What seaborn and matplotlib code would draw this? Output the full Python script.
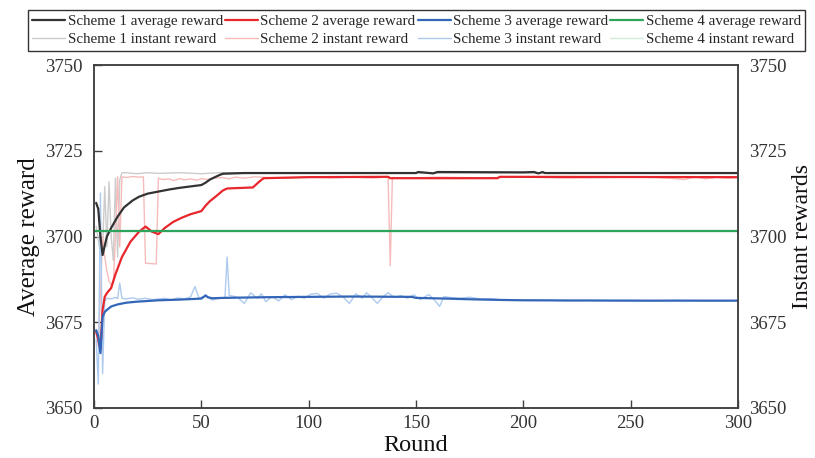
import matplotlib
matplotlib.use("Agg")
import matplotlib.pyplot as plt
import seaborn as sns
import pandas as pd

# ---------------- data ----------------
avg1_x = [1, 2, 3, 4, 6, 8, 11, 14, 18, 21, 25, 30, 35, 40, 45, 50, 52, 54, 56, 58, 60, 65, 70, 100, 150, 151, 158, 160, 200, 205, 207, 209, 210, 250, 300]
avg1_y = [3709.8, 3708.0, 3700.0, 3694.6, 3700.0, 3702.5, 3705.8, 3708.5, 3710.5, 3711.6, 3712.5, 3713.1, 3713.7, 3714.2, 3714.6, 3715.0, 3715.7, 3716.6, 3717.2, 3717.8, 3718.3, 3718.4, 3718.5, 3718.5, 3718.5, 3718.8, 3718.4, 3718.8, 3718.7, 3718.8, 3718.4, 3718.8, 3718.5, 3718.5, 3718.5]

avg2_x = [1, 2, 3, 4, 5, 6, 8, 10, 13, 17, 21, 24, 27, 30, 33, 37, 41, 45, 50, 52, 54, 57, 60, 62, 70, 74, 77, 79, 100, 137, 138, 188, 189, 300]
avg2_y = [3672.3, 3670.0, 3667.0, 3678.6, 3682.4, 3683.5, 3685.0, 3689.0, 3694.0, 3698.5, 3701.4, 3702.9, 3701.4, 3700.7, 3702.5, 3704.3, 3705.5, 3706.5, 3707.4, 3709.0, 3710.3, 3711.8, 3713.4, 3714.0, 3714.2, 3714.3, 3716.0, 3717.0, 3717.3, 3717.4, 3717.0, 3717.0, 3717.4, 3717.3]

avg3_x = [1, 2, 3, 4, 5, 6, 8, 11, 15, 20, 30, 40, 50, 52, 53, 55, 60, 80, 100, 120, 148, 150, 164, 175, 190, 200, 250, 300]
avg3_y = [3672.7, 3671.0, 3666.0, 3676.6, 3678.0, 3678.6, 3679.6, 3680.2, 3680.7, 3681.0, 3681.4, 3681.6, 3681.9, 3682.8, 3682.3, 3682.0, 3682.1, 3682.3, 3682.4, 3682.5, 3682.4, 3682.1, 3681.9, 3681.7, 3681.5, 3681.4, 3681.3, 3681.3]

avg4_x = [0, 300]
avg4_y = [3701.5, 3701.5]

inst1_x = [1, 2, 3, 4, 5, 6, 7, 8, 9, 10, 11, 12, 13, 15, 20, 25, 30, 40, 50, 58, 60, 100, 200, 300]
inst1_y = [3703.0, 3699.0, 3695.0, 3696.0, 3714.5, 3697.0, 3716.0, 3700.0, 3693.0, 3717.0, 3694.0, 3716.5, 3718.6, 3718.6, 3718.3, 3718.6, 3718.4, 3718.6, 3718.3, 3718.6, 3718.6, 3718.5, 3718.5, 3718.5]

inst2_x = [1, 2, 3, 4, 5, 6, 7, 8, 9, 10, 11, 12, 13, 15, 18, 21, 23, 24, 29, 30, 32, 35, 37, 40, 42, 45, 48, 50, 53, 56, 60, 63, 66, 70, 75, 80, 90, 100, 110, 120, 130, 137, 138, 139, 145, 160, 180, 200, 220, 240, 260, 270, 275, 280, 285, 290, 295, 300]
inst2_y = [3672.0, 3668.0, 3683.0, 3700.0, 3694.0, 3690.0, 3687.0, 3686.0, 3686.5, 3700.0, 3717.4, 3697.0, 3717.4, 3717.2, 3717.5, 3717.3, 3717.4, 3692.2, 3692.0, 3717.0, 3716.6, 3716.8, 3716.3, 3716.9, 3716.5, 3716.8, 3716.4, 3716.9, 3716.6, 3717.0, 3717.2, 3716.8, 3717.3, 3717.0, 3717.4, 3717.2, 3717.0, 3717.4, 3717.1, 3717.3, 3717.0, 3717.4, 3691.5, 3717.2, 3717.0, 3717.3, 3717.1, 3717.3, 3717.0, 3717.2, 3717.3, 3716.9, 3716.6, 3717.4, 3716.8, 3717.3, 3717.0, 3717.2]

inst3_x = [1, 2, 3, 4, 5, 6, 8, 10, 11, 12, 13, 15, 18, 21, 24, 27, 30, 33, 36, 39, 42, 45, 47, 49, 51, 52, 53, 55, 57, 59, 61, 62, 63, 65, 67, 70, 73, 76, 78, 80, 83, 86, 89, 92, 95, 98, 101, 104, 107, 110, 113, 116, 119, 122, 125, 127, 130, 132, 135, 137, 140, 143, 146, 149, 152, 156, 159, 161, 163, 166, 170, 175, 180, 185, 190, 200, 210, 220, 230, 240, 250, 260, 270, 280, 290, 300]
inst3_y = [3670.0, 3657.0, 3712.7, 3660.0, 3681.0, 3682.0, 3681.8, 3682.2, 3681.9, 3686.4, 3682.0, 3681.8, 3682.1, 3681.7, 3682.0, 3681.6, 3681.8, 3682.0, 3681.5, 3682.1, 3681.8, 3682.4, 3685.4, 3682.0, 3682.5, 3683.0, 3682.3, 3681.5, 3681.8, 3682.0, 3682.2, 3694.0, 3682.8, 3682.6, 3682.2, 3680.5, 3683.6, 3682.0, 3683.3, 3681.0, 3682.5, 3681.2, 3683.0, 3681.6, 3682.6, 3682.0, 3683.2, 3683.4, 3682.0, 3683.2, 3683.5, 3682.4, 3680.5, 3683.3, 3682.0, 3683.6, 3681.8, 3680.5, 3682.6, 3683.6, 3682.2, 3682.8, 3682.0, 3683.0, 3681.6, 3683.1, 3681.2, 3679.6, 3682.5, 3682.2, 3682.0, 3682.3, 3681.8, 3681.9, 3681.5, 3681.4, 3681.5, 3681.2, 3681.4, 3681.3, 3681.4, 3681.2, 3681.4, 3681.3, 3681.2, 3681.3]

inst4_x = [0, 300]
inst4_y = [3701.5, 3701.5]

avg_labels = ["Scheme 1 average reward", "Scheme 2 average reward",
              "Scheme 3 average reward", "Scheme 4 average reward"]
inst_labels = ["Scheme 1 instant reward", "Scheme 2 instant reward",
               "Scheme 3 instant reward", "Scheme 4 instant reward"]
avg_colors = ["#333333", "#e8262c", "#3466b8", "#2ea35c"]
inst_colors = ["#cccccc", "#f6bcbc", "#aecaee", "#d2ead9"]

x_ticks = [0, 50, 100, 150, 200, 250, 300]
y_ticks = [3650, 3675, 3700, 3725, 3750]

# ---------------- figure ----------------
sns.set_theme(style="white")
plt.rcParams["font.family"] = ["Liberation Serif", "DejaVu Serif"]
plt.rcParams["axes.edgecolor"] = "#404040"

fig = plt.figure(figsize=(8.15, 4.58), dpi=100)
ax = fig.add_axes([94 / 815, 1 - 408 / 458, (738 - 94) / 815, (408 - 65) / 458])

inst_sets = [(inst1_x, inst1_y), (inst2_x, inst2_y), (inst3_x, inst3_y), (inst4_x, inst4_y)]
avg_sets = [(avg1_x, avg1_y), (avg2_x, avg2_y), (avg3_x, avg3_y), (avg4_x, avg4_y)]

for (xs, ys), c, lab in zip(inst_sets, inst_colors, inst_labels):
    df = pd.DataFrame({"Round": xs, "Reward": ys})
    sns.lineplot(data=df, x="Round", y="Reward", ax=ax, color=c, lw=1.0,
                 label=lab, estimator=None, sort=False)
for (xs, ys), c, lab in zip(avg_sets, avg_colors, avg_labels):
    df = pd.DataFrame({"Round": xs, "Reward": ys})
    sns.lineplot(data=df, x="Round", y="Reward", ax=ax, color=c, lw=1.6,
                 label=lab, estimator=None, sort=False)

handles, labels = ax.get_legend_handles_labels()
hmap = dict(zip(labels, handles))
if ax.get_legend() is not None:
    ax.get_legend().remove()
order = []
for a, i in zip(avg_labels, inst_labels):
    order += [a, i]

ax.set_xlim(0, 300)
ax.set_ylim(3650, 3750)
ax.set_xticks(x_ticks)
ax.set_yticks(y_ticks)
ax.set_xlabel("Round", fontsize=17.5, labelpad=2, color="#111111")
ax.set_ylabel("Average reward", fontsize=18, labelpad=4, color="#111111")
ax.tick_params(axis="both", direction="in", length=6, width=1.0,
               labelsize=13.5, colors="#404040", labelcolor="#333333",
               bottom=True, left=True, top=False, right=False)
ax.tick_params(axis="x", pad=5)
ax.tick_params(axis="y", pad=8)
for s in ax.spines.values():
    s.set_linewidth(1.1)
    s.set_color("#404040")

ax2 = ax.twinx()
ax2.set_ylim(3650, 3750)
ax2.set_yticks(y_ticks)
ax2.tick_params(axis="y", length=0, labelsize=13.5, labelcolor="#333333", pad=8)
ax2.set_ylabel("Instant rewards", fontsize=17, labelpad=4, color="#111111")
for s in ax2.spines.values():
    s.set_linewidth(1.1)
    s.set_color("#404040")

leg = fig.legend([hmap[l] for l in order], order, ncol=4, loc="upper center",
                 bbox_to_anchor=(0.511, 0.978), fontsize=10.8, frameon=True,
                 fancybox=False, edgecolor="#333333", framealpha=1,
                 handlelength=2.2, handletextpad=0.15, columnspacing=0.15,
                 labelspacing=0.3, borderpad=0.3, borderaxespad=0)
leg.get_frame().set_linewidth(1.0)

fig.savefig("out.png", dpi=100)
